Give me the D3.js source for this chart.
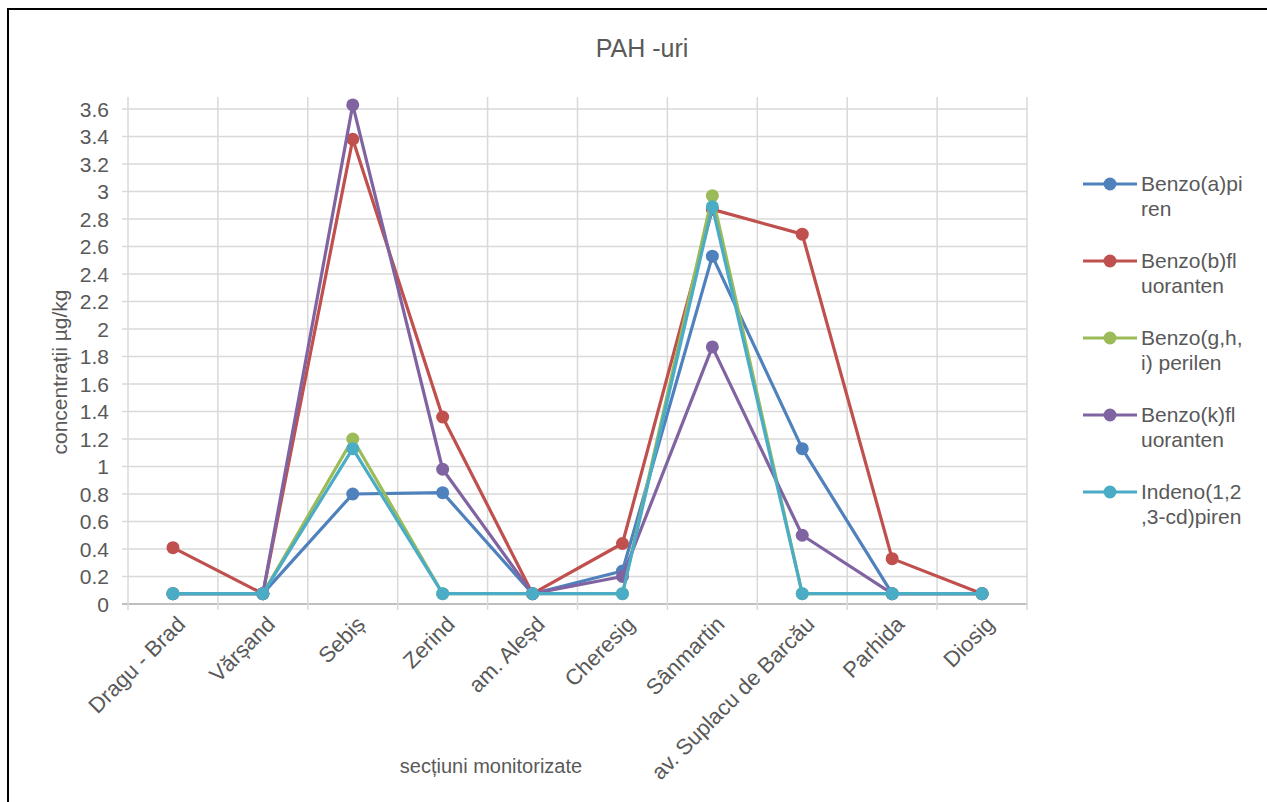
<!DOCTYPE html>
<html>
<head>
<meta charset="utf-8">
<script src="https://cdn.jsdelivr.net/npm/d3@7"></script>
<style>
  html, body { margin: 0; padding: 0; background: #fff; }
  svg { display: block; }
  text { font-family: "Liberation Sans", Arial, sans-serif; fill: #595959; }
</style>
</head>
<body>
<svg id="chart" width="1267" height="802"></svg>
<script>
const categories = ["Dragu - Brad", "Vărșand", "Sebiș", "Zerind", "am. Aleșd", "Cheresig", "Sânmartin", "av. Suplacu de Barcău", "Parhida", "Diosig"];
const seriesNames = ["Benzo(a)piren", "Benzo(b)fluoranten", "Benzo(g,h,i) perilen", "Benzo(k)fluoranten", "Indeno(1,2,3-cd)piren"];
const legendLines = [["Benzo(a)pi", "ren"], ["Benzo(b)fl", "uoranten"], ["Benzo(g,h,", "i) perilen"], ["Benzo(k)fl", "uoranten"], ["Indeno(1,2", ",3-cd)piren"]];
const benzoA   = [0.075, 0.075, 0.80, 0.81, 0.075, 0.24, 2.53, 1.13, 0.075, 0.075];
const benzoB   = [0.41, 0.075, 3.38, 1.36, 0.075, 0.44, 2.87, 2.69, 0.33, 0.075];
const benzoGHI = [0.075, 0.075, 1.20, 0.075, 0.075, 0.075, 2.97, 0.075, 0.075, 0.075];
const benzoK   = [0.075, 0.075, 3.63, 0.98, 0.075, 0.20, 1.87, 0.50, 0.075, 0.075];
const indeno   = [0.075, 0.075, 1.13, 0.075, 0.075, 0.075, 2.89, 0.075, 0.075, 0.075];
const yTicks = [0, 0.2, 0.4, 0.6, 0.8, 1, 1.2, 1.4, 1.6, 1.8, 2, 2.2, 2.4, 2.6, 2.8, 3, 3.2, 3.4, 3.6];
const colors = ["#4F81BD", "#C0504D", "#9BBB59", "#8064A2", "#4BACC6"];

const seriesValues = [benzoA, benzoB, benzoGHI, benzoK, indeno];

const svg = d3.select("#chart");

// frame
svg.append("rect").attr("x", 8).attr("y", 9).attr("width", 1300).attr("height", 900)
  .attr("fill", "#fff").attr("stroke", "#000").attr("stroke-width", 2);

const left = 128, right = 1027, bottom = 604;
const x = d3.scaleBand().domain(categories).range([left, right]);
const y = d3.scaleLinear().domain([0, 3.6]).range([bottom, 109]);
const gridTop = y(3.6) - 12;

// horizontal gridlines
svg.append("g").selectAll("line").data(yTicks).join("line")
  .attr("x1", left - 6).attr("x2", right)
  .attr("y1", d => y(d)).attr("y2", d => y(d))
  .attr("stroke", d => d === 0 ? "#bfbfbf" : "#d9d9d9").attr("stroke-width", d => d === 0 ? 2 : 1.5);

// vertical gridlines at band boundaries
const bounds = categories.map(c => x(c)).concat([right]);
svg.append("g").selectAll("line").data(bounds).join("line")
  .attr("x1", d => d).attr("x2", d => d)
  .attr("y1", gridTop).attr("y2", bottom + 6)
  .attr("stroke", "#d9d9d9").attr("stroke-width", 1.5);

// y tick labels
svg.append("g").selectAll("text").data(yTicks).join("text")
  .attr("x", 109).attr("y", d => y(d)).attr("dy", "0.36em")
  .attr("text-anchor", "end").attr("font-size", 21)
  .text(d => d3.format("~g")(d));

// x tick labels
svg.append("g").selectAll("text").data(categories).join("text")
  .attr("transform", d => `translate(${x(d) + x.bandwidth() / 2 + 8},${bottom + 16}) rotate(-45)`)
  .attr("text-anchor", "end").attr("dy", "0.36em").attr("font-size", 22)
  .text(d => d);

// title
svg.append("text").attr("x", 642).attr("y", 57).attr("text-anchor", "middle")
  .attr("font-size", 25).text("PAH  -uri");

// axis titles
svg.append("text").attr("transform", `translate(67,372) rotate(-90)`)
  .attr("text-anchor", "middle").attr("font-size", 21).text("concentrații µg/kg");
svg.append("text").attr("x", 491).attr("y", 773).attr("text-anchor", "middle")
  .attr("font-size", 20).text("secțiuni monitorizate");

// series
const line = d3.line().x((d, i) => x(categories[i]) + x.bandwidth() / 2).y(d => y(d));
seriesValues.forEach((vals, si) => {
  const g = svg.append("g");
  g.append("path").datum(vals).attr("d", line)
    .attr("fill", "none").attr("stroke", colors[si]).attr("stroke-width", 3.2)
    .attr("stroke-linejoin", "round");
  g.selectAll("circle").data(vals).join("circle")
    .attr("cx", (d, i) => x(categories[i]) + x.bandwidth() / 2)
    .attr("cy", d => y(d)).attr("r", 6.5).attr("fill", colors[si]);
});

// legend
const legendY = d3.scalePoint().domain(seriesNames).range([184, 492]);
const lg = svg.append("g").selectAll("g").data(seriesNames).join("g")
  .attr("transform", d => `translate(0,${legendY(d)})`);
lg.append("line").attr("x1", 1083).attr("x2", 1137).attr("y1", 0).attr("y2", 0)
  .attr("stroke", (d, i) => colors[i]).attr("stroke-width", 3.2);
lg.append("circle").attr("cx", 1110).attr("cy", 0).attr("r", 6.5).attr("fill", (d, i) => colors[i]);
lg.append("text").attr("x", 1141).attr("y", 7).attr("font-size", 21)
  .selectAll("tspan").data((d, i) => legendLines[i]).join("tspan")
  .attr("x", 1141).attr("dy", (d, j) => j === 0 ? 0 : 25).text(d => d);
</script>
</body>
</html>
